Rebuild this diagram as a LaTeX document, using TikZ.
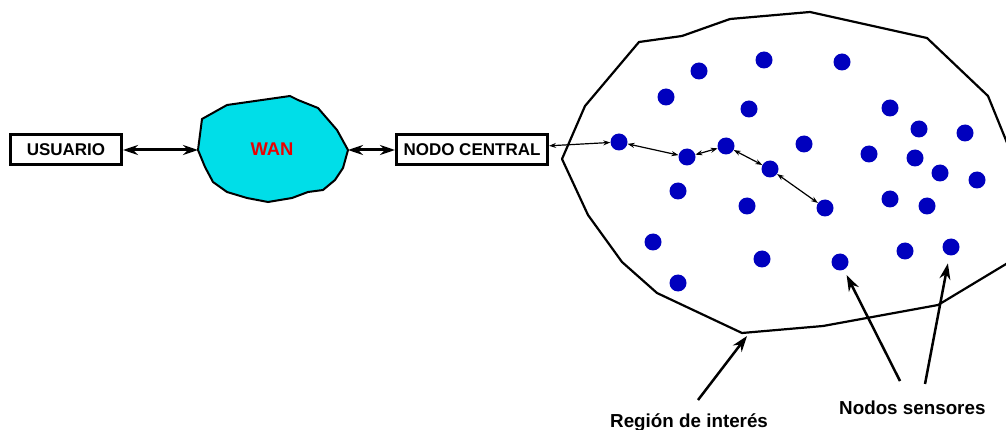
\documentclass[tikz,border=0pt]{standalone}
\usepackage{fontspec}
\setmainfont{Liberation Sans}
\usetikzlibrary{arrows.meta}
\definecolor{wancyan}{RGB}{0,222,232}
\definecolor{wanred}{RGB}{235,0,0}
\definecolor{sensorblue}{RGB}{0,0,190}

\begin{document}
\begin{tikzpicture}[x=1pt, y=-1pt,
        box/.style={draw, line width=3pt, minimum width=#1, minimum height=30pt,
                inner sep=0pt, font=\fontsize{17}{20}\selectfont\bfseries},
        sensor/.style={circle, fill=sensorblue, minimum size=17pt, inner sep=0pt},
        tag/.style={inner sep=0pt, anchor=base west,
                font=\fontsize{18.8}{22}\selectfont\bfseries},
        link/.style={line width=3pt,
                {Stealth[length=15pt,width=10pt]}-{Stealth[length=15pt,width=10pt]}},
        hop/.style={line width=1.2pt,
                {Stealth[length=7pt,width=5pt]}-{Stealth[length=7pt,width=5pt]}},
        pointer/.style={line width=2.5pt, -{Stealth[length=16pt,width=11pt]}}]
        \useasboundingbox (0,0) rectangle (1006,430);
        \fill[white] (0,0) rectangle (1006,430);
        \clip (0,0) rectangle (1006,430);

        % WAN cloud
        \draw[line width=2pt, fill=wancyan] (198,150) -- (202,119) -- (227,105) -- (290,96)
                -- (298,100) -- (318,108) -- (337,130) -- (348,150) -- (343,168)
                -- (335,180) -- (323,190) -- (308,192) -- (292,198) -- (268,202)
                -- (247,198) -- (227,192) -- (213,182) -- (205,167) -- cycle;

        % region of interest
        \draw[line width=2.2pt, line join=round] (562,159) -- (585,106) -- (639,42)
                -- (682,36) -- (730,19) -- (810,12) -- (927,38) -- (988,96)
                -- (1012,155) -- (1016,258) -- (938,305) -- (823,326) -- (742,333)
                -- (657,293) -- (622,262) -- (588,215) -- cycle;

        % sensors (S1..S5 form the route, S6 and S7 are pointed at)
        \foreach [count=\i] \p in {(619,142), (687,157), (726,146), (770,169), (825,208),
                (840,262), (951,247), (699,71), (764,60), (842,62), (666,97),
                (749,109), (890,108), (919,129), (965,133), (804,144), (869,154),
                (915,158), (940,173), (977,180), (678,191), (747,206), (890,199),
                (927,206), (653,242), (762,259), (905,251), (678,283)}
                \node[sensor] (S\i) at \p {};

        \draw   (66,150) node (U) [box=111pt] {USUARIO}
                (272,149) node (W) [text=wanred,
                        font=\fontsize{18.4}{22}\selectfont\bfseries] {WAN}
                (472,150) node (C) [box=151pt] {NODO CENTRAL}
                (198,150) coordinate (Wl)
                (348,150) coordinate (Wr)

                (U) edge [link] (Wl)
                (Wr) edge [link] (C)
                (C) edge [hop] (S1)
                (S1) edge [hop] (S2)
                (S2) edge [hop] (S3)
                (S3) edge [hop] (S4)
                (S4) edge [hop] (S5)
                ;

        \draw   (610,427) node (R) [tag] {Región de interés}
                (839,414) node (N) [tag] {Nodos sensores}
                (698,400) coordinate (Rt)
                (747,336) coordinate (Rv)
                (900,381) coordinate (Na)
                (925,384) coordinate (Nb)

                (Rt) edge [pointer] (Rv)
                (Na) edge [pointer, shorten >=6pt] (S6)
                (Nb) edge [pointer, shorten >=8pt] (S7)
                ;
\end{tikzpicture}
\end{document}
